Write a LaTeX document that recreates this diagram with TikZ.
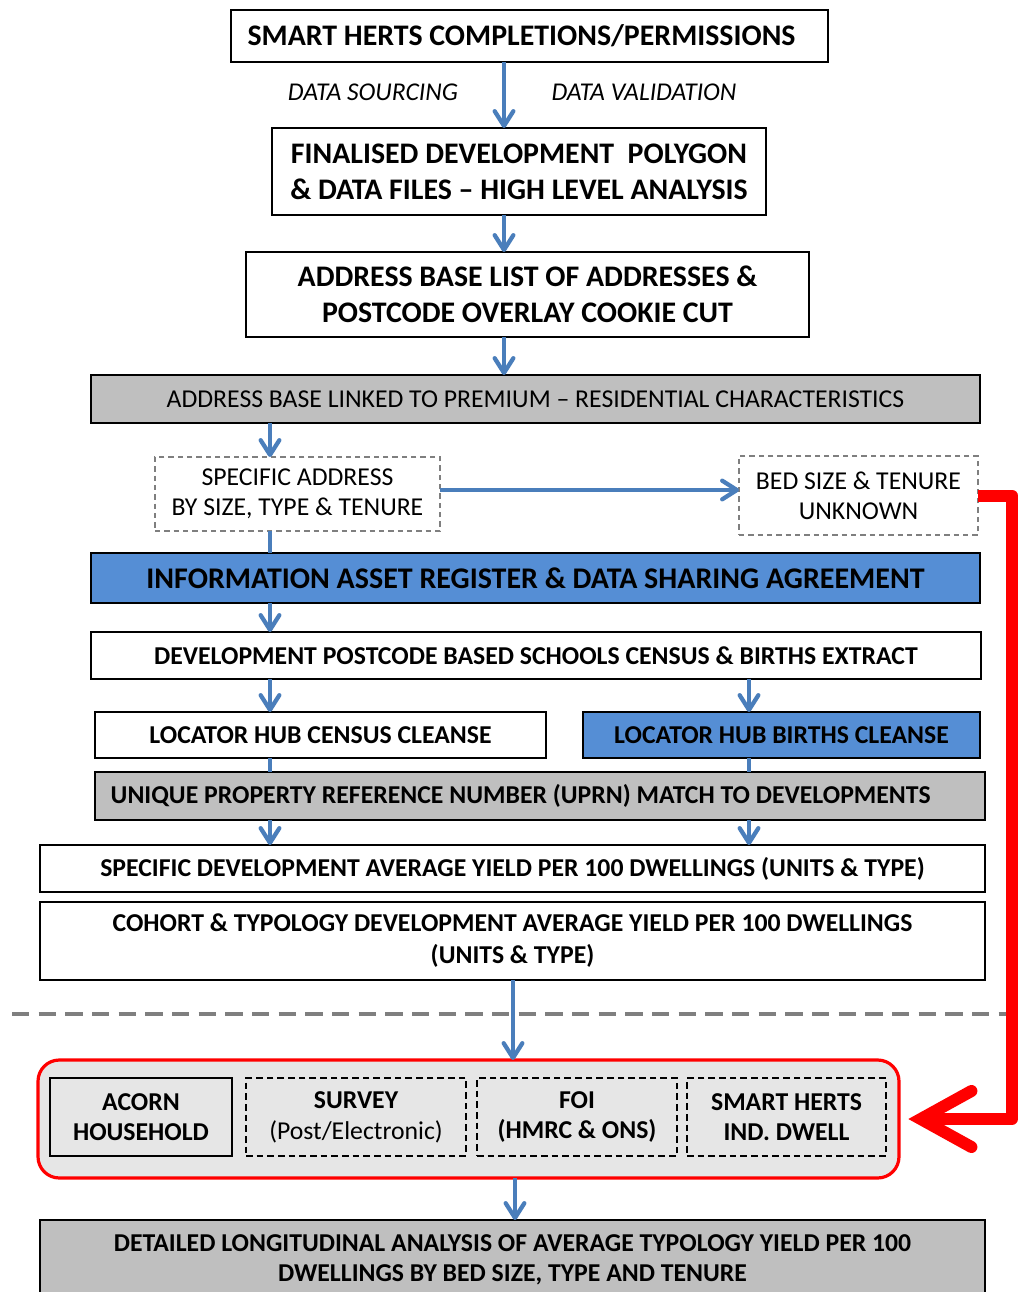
\documentclass[tikz,border=0pt]{standalone}
\usepackage{fontspec}
\setmainfont{Carlito}
\usetikzlibrary{arrows.meta}
\newdimen\U \U=0.75pt
\definecolor{arrowblue}{HTML}{4A7EBB}
\definecolor{boxblue}{HTML}{558ED5}
\definecolor{boxgrey}{HTML}{BFBFBF}
\definecolor{panelgrey}{HTML}{E6E6E6}
\definecolor{dashgrey}{HTML}{7F7F7F}
\begin{document}
\begin{tikzpicture}[x=0.75pt,y=-0.75pt,
  box/.style={draw=black, line width=1.5pt, inner sep=0pt, outer sep=0pt, align=center},
  bigbold/.style={font=\fontsize{22.4}{27}\selectfont\bfseries},
  midbold/.style={font=\fontsize{19.3}{24}\selectfont\bfseries},
  regtext/.style={font=\fontsize{19.3}{22.5}\selectfont},
  greybox/.style={box, fill=boxgrey},
  bluebox/.style={box, fill=boxblue},
  dashbox/.style={draw=dashgrey, line width=1.1pt, dash pattern=on 4pt off 3pt, inner sep=0pt, outer sep=0pt, align=center},
  innerbox/.style={draw=black, line width=1.4pt, dash pattern=on 5pt off 3pt, inner sep=0pt, outer sep=0pt, align=center, font=\fontsize{19.3}{23}\selectfont\bfseries},
  arr/.style={draw=arrowblue, line width=3.2pt, -{Straight Barb[length=11pt,width=14pt,line cap=round,line join=round]}},
  plain/.style={draw=arrowblue, line width=3.2pt},
  redarr/.style={draw=red, line width=9pt, line join=round, -{Straight Barb[length=38pt,width=42pt,line cap=round,line join=miter]}},
  sep/.style={draw=dashgrey, line width=3pt, dash pattern=on 13pt off 7pt},
  lbl/.style={font=\fontsize{19.2}{22}\selectfont\itshape, inner sep=0pt}
]
\useasboundingbox (0,0) rectangle (1022,1292);

\coordinate (colA) at (504,0);
\coordinate (colL) at (270,0);
\coordinate (colR) at (749,0);
\coordinate (colC) at (513,0);
\coordinate (colD) at (515,0);
\coordinate (rc) at (1012,0);
\coordinate (rowH) at (0,490);

\node[box, bigbold, minimum width=597\U, minimum height=52\U] (b1) at (529.5,36) {SMART HERTS COMPLETIONS/PERMISSIONS\hspace{12pt}};
\node[lbl] (l1) at (373,92) {DATA SOURCING};
\node[lbl] (l2) at (644,92) {DATA VALIDATION};
\node[box, bigbold, minimum width=494\U, minimum height=87\U] (b2) at (519,171.5) {FINALISED DEVELOPMENT\ \ POLYGON\\\& DATA FILES -- HIGH LEVEL ANALYSIS};
\node[box, bigbold, minimum width=563\U, minimum height=85\U] (b3) at (527.5,294.5) {ADDRESS BASE LIST OF ADDRESSES \&\\POSTCODE OVERLAY COOKIE CUT};
\node[greybox, regtext, minimum width=889\U, minimum height=48\U] (b4) at (535.5,399) {ADDRESS BASE LINKED TO PREMIUM -- RESIDENTIAL CHARACTERISTICS};
\node[dashbox, regtext, minimum width=285\U, minimum height=74\U] (b5) at (297.5,494) {SPECIFIC ADDRESS\\BY SIZE, TYPE \& TENURE};
\node[dashbox, regtext, minimum width=239\U, minimum height=79\U] (b6) at (858.5,495.5) {BED SIZE \& TENURE\\UNKNOWN};
\node[bluebox, font=\fontsize{22.5}{26}\selectfont\bfseries, minimum width=889\U, minimum height=50\U] (b7) at (535.5,578) {INFORMATION ASSET REGISTER \& DATA SHARING AGREEMENT};
\node[box, midbold, minimum width=890\U, minimum height=47\U] (b8) at (536,655.5) {DEVELOPMENT POSTCODE BASED SCHOOLS CENSUS \& BIRTHS EXTRACT};
\node[box, midbold, minimum width=451\U, minimum height=46\U] (b9) at (320.5,735) {LOCATOR HUB CENSUS CLEANSE};
\node[bluebox, midbold, minimum width=397\U, minimum height=46\U] (b10) at (781.5,735) {LOCATOR HUB BIRTHS CLEANSE};
\node[greybox, midbold, minimum width=890\U, minimum height=48\U] (b11) at (540,796) {UNIQUE PROPERTY REFERENCE NUMBER (UPRN) MATCH TO DEVELOPMENTS\hspace{29pt}};
\node[box, midbold, minimum width=945\U, minimum height=47\U] (b12) at (512.5,868.5) {SPECIFIC DEVELOPMENT AVERAGE YIELD PER 100 DWELLINGS (UNITS \& TYPE)};
\node[box, midbold, minimum width=945\U, minimum height=78\U] (b13) at (512.5,941) {COHORT \& TYPOLOGY DEVELOPMENT AVERAGE YIELD PER 100 DWELLINGS\\(UNITS \& TYPE)};

\draw[sep] (12,1014) -- (1022,1014);

\node[draw=red, line width=2.4pt, fill=panelgrey, rounded corners=16pt, minimum width=861\U, minimum height=118\U, inner sep=0pt, outer sep=0pt] (cont) at (468.5,1119) {};
\node[box, line width=1.4pt, fill=panelgrey, font=\fontsize{19.3}{23}\selectfont\bfseries, minimum width=182\U, minimum height=78\U] (acorn) at (141,1117) {ACORN\\HOUSEHOLD};
\node[innerbox, minimum width=220\U, minimum height=78\U] (survey) at (356,1117) {SURVEY\\{\mdseries (Post/Electronic)}};
\node[innerbox, minimum width=200\U, minimum height=78\U] (foi) at (577,1117) {FOI\\(HMRC \& ONS)};
\node[innerbox, minimum width=199\U, minimum height=78\U] (smart) at (786.5,1117) {SMART HERTS\\IND. DWELL};

\node[greybox, font=\fontsize{19.3}{22.5}\selectfont\bfseries, minimum width=945\U, minimum height=80\U] (final) at (512.5,1260) {DETAILED LONGITUDINAL ANALYSIS OF AVERAGE TYPOLOGY YIELD PER 100\\DWELLINGS BY BED SIZE, TYPE AND TENURE};

\draw[arr] (b1.south -| colA) -- (b2.north -| colA);
\draw[arr] (b2.south -| colA) -- (b3.north -| colA);
\draw[arr] (b3.south -| colA) -- (b4.north -| colA);
\draw[arr] (b4.south -| colL) -- (b5.north -| colL);
\draw[arr] (b5.east |- rowH) -- (b6.west |- rowH);
\draw[plain] (b5.south -| colL) -- (b7.north -| colL);
\draw[arr] (b7.south -| colL) -- (b8.north -| colL);
\draw[arr] (b8.south -| colL) -- (b9.north -| colL);
\draw[arr] (b8.south -| colR) -- (b10.north -| colR);
\draw[plain] (b9.south -| colL) -- (b11.north -| colL);
\draw[plain] (b10.south -| colR) -- (b11.north -| colR);
\draw[arr] (b11.south -| colL) -- (b12.north -| colL);
\draw[arr] (b11.south -| colR) -- (b12.north -| colR);
\draw[arr] (b13.south -| colC) -- (cont.north -| colC);
\draw[arr] (cont.south -| colD) -- (final.north -| colD);
\draw[redarr, shorten >=7pt] (b6.east) -| (rc |- cont.east) -- (cont.east);
\end{tikzpicture}
\end{document}
